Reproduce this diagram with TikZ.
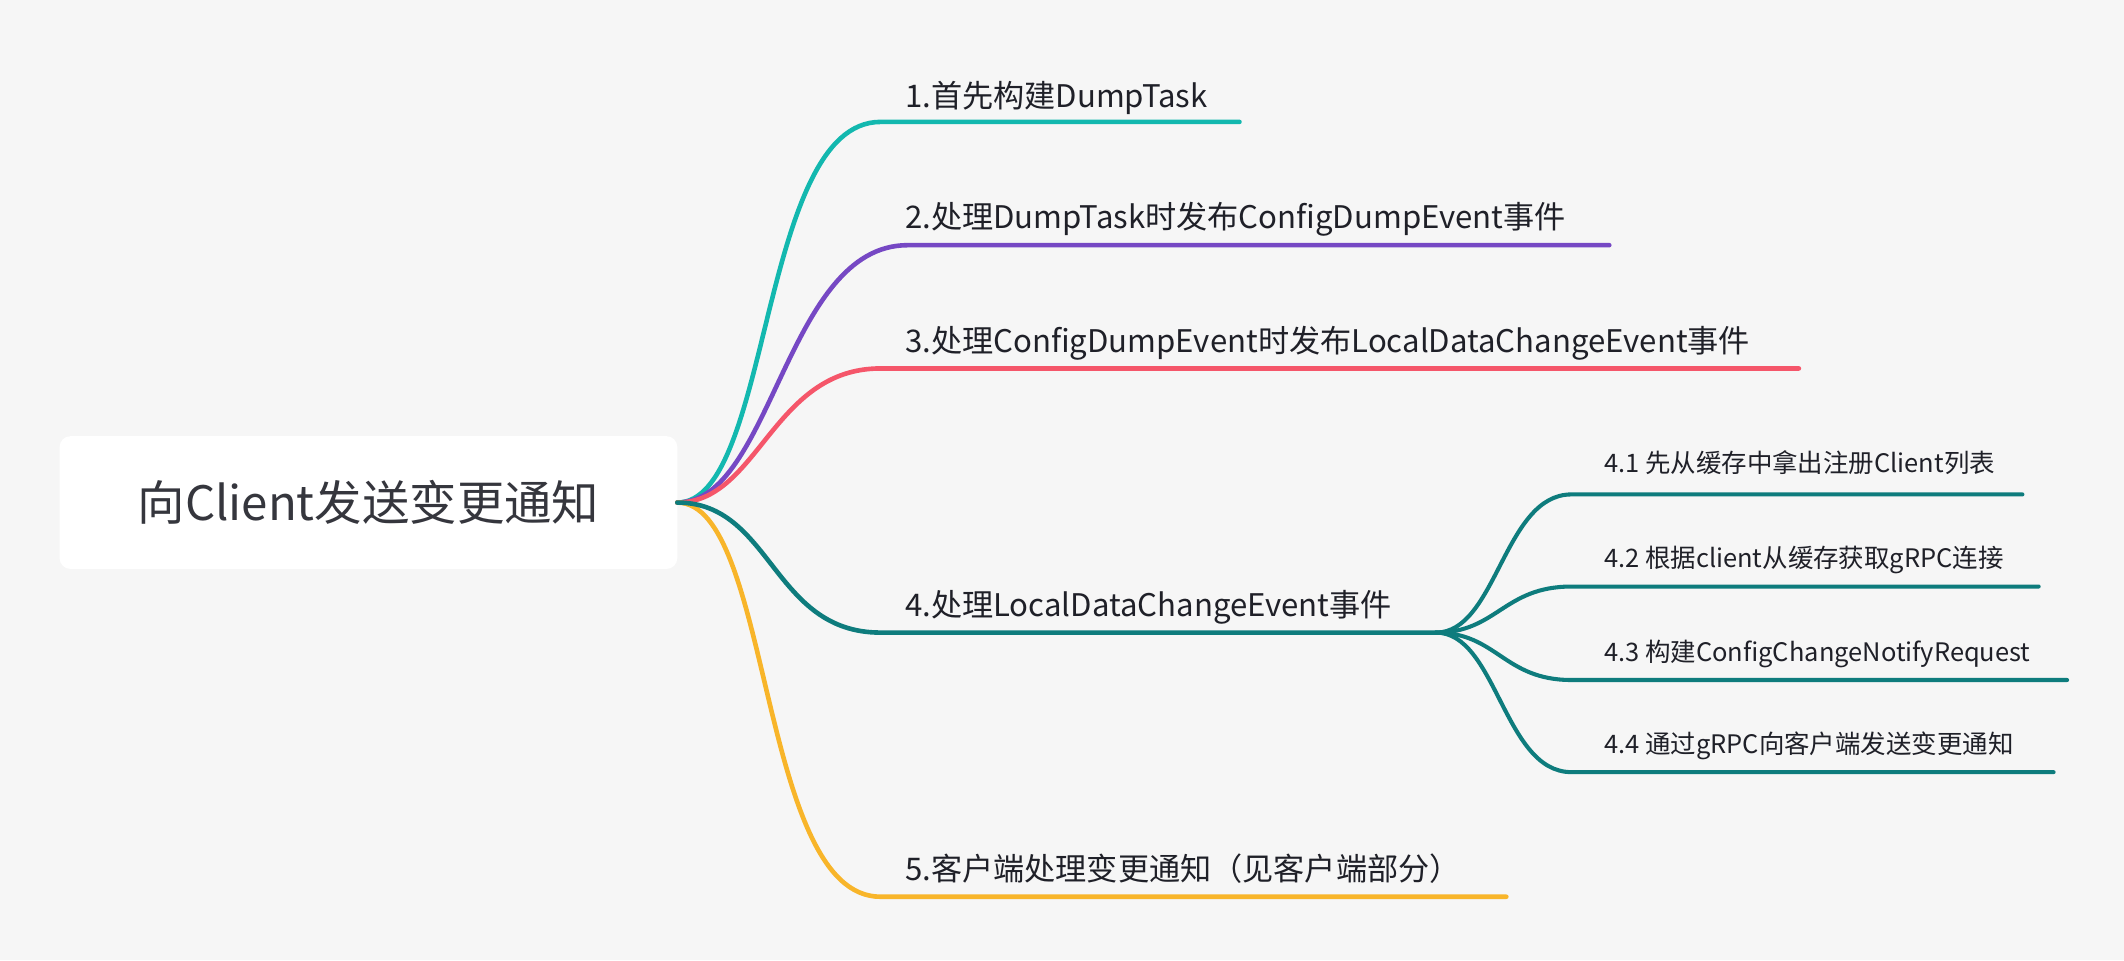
\documentclass[tikz,border=0pt]{standalone}
\usepackage{fontspec}
\setmainfont{Noto Sans CJK SC}
\definecolor{bg}{HTML}{F6F6F6}
\definecolor{txt}{HTML}{1F2028}
\definecolor{cA}{HTML}{13B8AF}
\definecolor{cB}{HTML}{7648C4}
\definecolor{cC}{HTML}{F5566A}
\definecolor{cD}{HTML}{0E7C7D}
\definecolor{cE}{HTML}{F8B52A}
\begin{document}
\begin{tikzpicture}[x=1pt,y=-1pt,
  br/.style={line width=3.4pt, line cap=round},
  subbr/.style={line width=3pt, line cap=round, cD},
  lbl/.style={anchor=base west, inner sep=0pt, text=txt, font=\fontsize{23}{27}\selectfont},
  sublbl/.style={anchor=base west, inner sep=0pt, text=txt, font=\fontsize{18.8}{22}\selectfont},
  rootbox/.style={fill=white, rounded corners=8pt, minimum width=456pt, minimum height=98pt, inner sep=0pt, text=txt!90!white, font=\fontsize{35}{40}\selectfont}]
\fill[bg] (0,0) rectangle (1568,709);
\useasboundingbox (0,0) rectangle (1568,709);
\node[rootbox] (root) at (272,371) {向Client发送变更通知};
\coordinate (o) at (500,371);
% branch 1
\coordinate (a1) at (650,90); \coordinate (b1) at (915,90);
\draw[br,cA] (o) .. controls +(70,0) and +(-90,0) .. (a1) -- (b1);
\node[lbl] (t1) at (668,79) {1.首先构建DumpTask};
% branch 2
\coordinate (a2) at (670,181); \coordinate (b2) at (1188,181);
\draw[br,cB] (o) .. controls +(70,0) and +(-90,0) .. (a2) -- (b2);
\node[lbl] (t2) at (668,169) {2.处理DumpTask时发布ConfigDumpEvent事件};
% branch 3
\coordinate (a3) at (650,272); \coordinate (b3) at (1328,272);
\draw[br,cC] (o) .. controls +(60,0) and +(-80,0) .. (a3) -- (b3);
\node[lbl] (t3) at (668,260) {3.处理ConfigDumpEvent时发布LocalDataChangeEvent事件};
% branch 5
\coordinate (a5) at (650,662); \coordinate (b5) at (1112,662);
\draw[br,cE] (o) .. controls +(70,0) and +(-90,0) .. (a5) -- (b5);
\node[lbl] (t5) at (668,650) {5.客户端处理变更通知（见客户端部分）};
% branch 4
\coordinate (a4) at (650,467); \coordinate (b4) at (1060,467);
\draw[br,cD] (o) .. controls +(70,0) and +(-80,0) .. (a4) -- (b4);
\node[lbl] (t4) at (668,455) {4.处理LocalDataChangeEvent事件};
% sub-branches
\coordinate (s1) at (1160,365); \coordinate (e1) at (1493,365);
\coordinate (s2) at (1160,433); \coordinate (e2) at (1505,433);
\coordinate (s3) at (1160,502); \coordinate (e3) at (1526,502);
\coordinate (s4) at (1160,570); \coordinate (e4) at (1516,570);
\draw[subbr] (b4) .. controls +(45,0) and +(-50,0) .. (s1) -- (e1);
\draw[subbr] (b4) .. controls +(45,0) and +(-50,0) .. (s2) -- (e2);
\draw[subbr] (b4) .. controls +(45,0) and +(-50,0) .. (s3) -- (e3);
\draw[subbr] (b4) .. controls +(45,0) and +(-50,0) .. (s4) -- (e4);
\node[sublbl] (u1) at (1184,349) {4.1 先从缓存中拿出注册Client列表};
\node[sublbl] (u2) at (1184,419) {4.2 根据client从缓存获取gRPC连接};
\node[sublbl] (u3) at (1184,488) {4.3 构建ConfigChangeNotifyRequest};
\node[sublbl] (u4) at (1184,556) {4.4 通过gRPC向客户端发送变更通知};
\end{tikzpicture}
\end{document}
